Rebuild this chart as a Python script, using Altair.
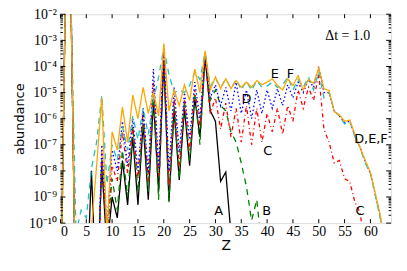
import altair as alt
import pandas as pd

# ---- data (log10 of abundance), Z = 0..63 ----
Z = list(range(64))
LOW = -14
A_exp = [LOW, -0.5, -1.0, LOW, LOW, -13, -8.0, -13, -7.8, -11, -9.0, -9.8, -7.6, -9.3, -6.7, -9.3,
         -6.2, -9.1, -5.3, -8.8, -3.8, -9.15, -5.7, -8.35, -5.6, -7.8, -5.2, -6.7, -3.65, -5.7, -6.1, -8.4,
         -8.05, -10.4] + [LOW] * 30
B_exp = [LOW, -0.5, -1.0, LOW, LOW, LOW, -11, LOW, -7.5, -10.5, -8.3, -9.5, -7.2, -9.0, -6.3, -8.8,
         -6.0, -8.8, -5.0, -9.1, -3.3, -9.2, -5.5, -8.3, -5.3, -7.6, -5.0, -7.0, -3.5, -5.3, -4.9, -5.5,
         -5.7, -6.5, -6.9, -7.7, -8.6, -9.9, -9.1, -11] + [LOW] * 24
C_exp = [LOW, -0.5, -1.0, LOW, LOW, LOW, -11, LOW, -7.3, -10.5, -7.8, -8.4, -6.5, -8.1, -6.3, -8.3,
         -5.7, -8.4, -4.6, -8.2, -3.5, -8.6, -5.2, -7.8, -5.3, -7.2, -4.9, -6.3, -3.6, -5.8, -5.2, -6.4,
         -5.4, -6.7, -5.6, -6.9, -5.5, -7.0, -5.6, -6.9, -5.8, -6.5, -5.6, -6.6, -5.5, -6.1, -4.9, -5.6,
         -4.8, -5.3, -4.3, -6.4, -6.9, -7.7, -7.6, -8.3, -8.4, -9.2, -9.6, -11] + [LOW] * 4
D_exp = [LOW, -0.5, -1.0, LOW, LOW, LOW, -11, LOW, -7.0, -10.2, -7.2, -8.0, -6.1, -7.8, -6.0, -8.0,
         -5.6, -8.1, -4.1, -7.9, -3.2, -8.0, -4.8, -7.3, -5.0, -6.8, -4.6, -6.0, -3.5, -5.2, -4.7, -5.5,
         -4.8, -5.7, -4.6, -5.8, -4.9, -6.0, -4.9, -5.8, -4.9, -5.6, -4.85, -5.5, -4.7, -5.2, -4.6, -5.0,
         -4.5, -4.8, -4.0, -5.0, -5.0, -5.7, -5.9, -6.15, -6.1, -6.65, -7.1, -7.65, -8.1, -8.95, -9.85, -11]
E_exp = [LOW, -0.5, -1.0, -10.4, -9.5, -9.8, -7.9, -6.9, -5.1, -8.5, -7.0, -7.6, -6.3, -7.2, -5.9, -6.8,
         -5.6, -6.6, -5.3, -4.4, -3.3, -4.3, -5.0, -4.9, -5.0, -4.73, -4.2, -4.5, -3.45, -4.75, -4.47, -4.8,
         -4.47, -4.85, -4.5, -4.9, -4.55, -4.92, -4.54, -4.8, -4.75, -4.6, -4.8, -4.7, -4.41, -4.9, -4.5, -4.8,
         -4.4, -4.9, -4.2, -5.2, -5.0, -5.7, -5.9, -6.2, -6.1, -6.7, -7.1, -7.7, -8.1, -9.0, -9.9, -11]
F_exp = [LOW, -0.5, -1.0, LOW, LOW, -13, -10.2, -7.8, -5.2, -10.5, -6.5, -7.2, -5.55, -6.9, -5.1, -6.0,
         -4.8, -5.8, -5.0, -5.9, -3.12, -5.7, -4.9, -5.5, -4.7, -5.3, -4.1, -5.0, -3.4, -4.9, -4.4, -4.85,
         -4.47, -4.85, -4.54, -4.8, -4.6, -4.8, -4.54, -4.7, -4.6, -4.47, -4.73, -4.9, -4.47, -4.73, -4.35, -4.9,
         -4.5, -4.65, -4.05, -4.85, -4.92, -5.74, -5.86, -6.1, -6.05, -6.6, -7.1, -7.6, -8.06, -8.9, -9.8, -11]

names = ["A", "B", "C", "D", "E", "F"]
exps = [A_exp, B_exp, C_exp, D_exp, E_exp, F_exp]
colors = ["#000000", "#008000", "#ff0000", "#0000ff", "#20c0c0", "#ffa500"]
dashes = [[1, 0], [6, 5], [4, 3, 1, 3], [1.5, 2.5], [6, 5], [1, 0]]

# annotation labels
lab_text = ["A", "B", "C", "C", "D", "E", "F", "D,E,F"]
lab_Z = [30.6, 39.9, 40.1, 58.0, 36.0, 41.5, 44.5, 60.1]
lab_exp = [-9.53, -9.53, -7.25, -9.53, -5.23, -4.28, -4.28, -6.79]
note_text = ["Δt = 1.0"]
note_Z = [55.6]
note_exp = [-2.83]

# ticks
x_ticks = [0, 5, 10, 15, 20, 25, 30, 35, 40, 45, 50, 55, 60]
y_exps = [-10, -9, -8, -7, -6, -5, -4, -3, -2]
y_sup = ["⁻¹⁰", "⁻⁹", "⁻⁸", "⁻⁷", "⁻⁶", "⁻⁵", "⁻⁴", "⁻³", "⁻²"]
minor_mult = [2, 3, 4, 5, 6, 7, 8, 9]

W, H = 334, 211

rows = []
for n, ex in zip(names, exps):
    for z, e in zip(Z, ex):
        rows.append({"s": n, "Z": z, "v": 10.0 ** e})
df = pd.DataFrame(rows)

lab_df = pd.DataFrame({"t": lab_text, "Z": lab_Z, "v": [10.0 ** e for e in lab_exp]})
note_df = pd.DataFrame({"t": note_text, "Z": note_Z, "v": [10.0 ** e for e in note_exp]})
xt_df = pd.DataFrame({"Z": x_ticks})
yt_df = pd.DataFrame({"v": [10.0 ** e for e in y_exps]})
ym_df = pd.DataFrame({"v": [m * 10.0 ** e for e in y_exps[:-1] for m in minor_mult]})

xs = alt.Scale(domain=[0, 64], nice=False, zero=False)
ys = alt.Scale(type="log", domain=[1e-10, 1e-2], nice=False)

label_expr = "'10' + " + "[" + ",".join("'%s'" % s for s in y_sup) + "][round(log(datum.value)/LN10)+10]"

xaxis = alt.Axis(values=x_ticks, title="Z", grid=False, ticks=False, tickSize=0, domain=False,
                 labelFont="Liberation Serif", labelFontSize=14, labelPadding=2,
                 titleFont="DejaVu Sans", titleFontSize=14, titleFontWeight="normal",
                 titleY=23, titleBaseline="middle", labelColor="black", titleColor="black")
yaxis = alt.Axis(values=[10.0 ** e for e in y_exps], labelExpr=label_expr, title="abundance",
                 grid=False, ticks=False, tickSize=0, domain=False,
                 labelFont="Liberation Serif", labelFontSize=14, labelPadding=4,
                 titleFont="DejaVu Sans", titleFontSize=13, titleFontWeight="normal",
                 titleX=-41, titleY=H / 2, titleAngle=-90, titleAlign="center", titleBaseline="middle",
                 labelColor="black", titleColor="black")

X = alt.X("Z:Q", scale=xs, axis=xaxis)
Y = alt.Y("v:Q", scale=ys, axis=yaxis)

lines = alt.Chart(df).mark_line(strokeWidth=1.3, clip=True).encode(
    x=X, y=Y,
    color=alt.Color("s:N", scale=alt.Scale(domain=names, range=colors), legend=None),
    strokeDash=alt.StrokeDash("s:N", scale=alt.Scale(domain=names, range=dashes), legend=None),
    order=alt.Order("Z:Q"),
)

labels = alt.Chart(lab_df).mark_text(font="DejaVu Sans", fontSize=13, color="black",
                                     align="center", baseline="middle").encode(x=X, y=Y, text="t:N")
note = alt.Chart(note_df).mark_text(font="Liberation Serif", fontSize=14, color="black",
                                    align="center", baseline="middle").encode(x=X, y=Y, text="t:N")

xt_bot = alt.Chart(xt_df).mark_rule(color="black").encode(x=X, y=alt.value(H), y2=alt.value(H - 4))
xt_top = alt.Chart(xt_df).mark_rule(color="black").encode(x=X, y=alt.value(0), y2=alt.value(4))
yt_l = alt.Chart(yt_df).mark_rule(color="black").encode(y=Y, x=alt.value(0), x2=alt.value(5))
yt_r = alt.Chart(yt_df).mark_rule(color="black").encode(y=Y, x=alt.value(W), x2=alt.value(W - 5))
ym_l = alt.Chart(ym_df).mark_rule(color="black").encode(y=Y, x=alt.value(0), x2=alt.value(2.5))
ym_r = alt.Chart(ym_df).mark_rule(color="black").encode(y=Y, x=alt.value(W), x2=alt.value(W - 2.5))

chart = alt.layer(lines, labels, note, xt_bot, xt_top, yt_l, yt_r, ym_l, ym_r).properties(
    width=W, height=H,
    autosize=alt.AutoSizeParams(type="none"),
    padding={"left": 53, "top": 5, "right": 8, "bottom": 40},
).configure_view(stroke="black", strokeWidth=1.2).configure(background="white")

chart.save("out.html", embed_options={"renderer": "svg", "actions": False})
